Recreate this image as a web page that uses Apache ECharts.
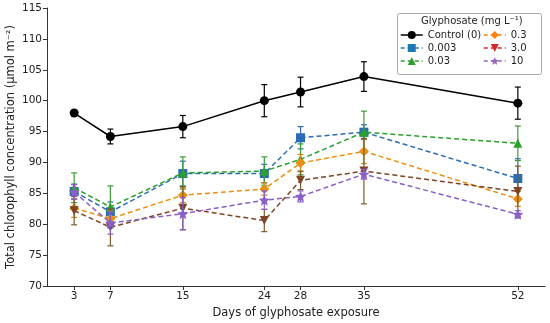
<!DOCTYPE html>
<html><head><meta charset="utf-8">
<script src="https://cdn.jsdelivr.net/npm/echarts@6/dist/echarts.min.js"></script>
<style>html,body{margin:0;padding:0;background:#fff}#c{width:550px;height:323px}</style>
</head><body><div id="c"></div>
<script>
const days = [3, 7, 15, 24, 28, 35, 52];
const xTicks = [3, 7, 15, 24, 28, 35, 52];
const yTicks = [70, 75, 80, 85, 90, 95, 100, 105, 110, 115];
const seriesNames = ['Control (0)', '0.003', '0.03', '0.3', '3.0', '10'];
const control = [98.0, 94.2, 95.8, 100.0, 101.4, 103.9, 99.6];
const controlErr = [0.3, 1.2, 1.8, 2.6, 2.4, 2.4, 2.6];
const g0003 = [85.3, 82.0, 88.2, 88.2, 94.0, 94.9, 87.4];
const g0003Err = [1.2, 1.6, 2.0, 1.5, 1.8, 1.2, 3.2];
const g003 = [85.9, 82.8, 88.3, 88.6, 90.5, 94.9, 93.1];
const g003Err = [2.4, 3.4, 2.6, 2.3, 2.5, 3.4, 2.8];
const g03 = [82.6, 80.9, 84.7, 85.7, 89.9, 91.8, 84.1];
const g03Err = [1.5, 1.2, 1.2, 1.0, 1.4, 2.0, 1.2];
const g30 = [82.2, 79.5, 82.6, 80.6, 87.1, 88.6, 85.3];
const g30Err = [2.3, 3.0, 3.5, 1.8, 1.5, 5.3, 4.1];
const g10 = [85.2, 80.2, 81.7, 83.9, 84.5, 88.1, 81.6];
const g10Err = [1.2, 1.8, 2.6, 1.5, 0.9, 0.8, 0.6];

const values = [control, g0003, g003, g03, g30, g10];
const errs = [controlErr, g0003Err, g003Err, g03Err, g30Err, g10Err];
const colors = ['#000000', '#2a6db5', '#2ca02c', '#e8900f', '#7e4426', '#8a5fc8'];
const legendColors = ['#000000', '#1f77b4', '#2ca02c', '#ff7f0e', '#d62728', '#9467bd'];
const errColors = ['#000000', '#2a6db5', '#3d9a35', '#d08a18', '#7a5a2a', '#8a5fc8'];
const star = 'path://M0,-10 L2.6,-3.6 9.5,-3.1 4.2,1.4 5.9,8.1 0,4.4 -5.9,8.1 -4.2,1.4 -9.5,-3.1 -2.6,-3.6 Z';
const symbols = ['circle', 'rect', 'triangle', 'diamond', 'triangle', star];
const symbolRot = [0, 0, 0, 0, 180, 0];
const symSizes = [9, 9, 9, 10, 9, 11];

const series = [];
seriesNames.forEach((name, i) => {
  const errData = days.map((d, k) => [d, values[i][k] - errs[i][k], values[i][k] + errs[i][k]]);
  const ec = errColors[i];
  series.push({
    type: 'custom', name: name + ' error', z: 2 + i * 2,
    data: errData, encode: {x: 0, y: [1, 2]},
    renderItem: function (params, api) {
      const x = api.value(0);
      const lo = api.coord([x, api.value(1)]);
      const hi = api.coord([x, api.value(2)]);
      const w = 3;
      const st = {stroke: ec, lineWidth: 1.2};
      return {type: 'group', children: [
        {type: 'line', shape: {x1: lo[0], y1: lo[1], x2: hi[0], y2: hi[1]}, style: st},
        {type: 'line', shape: {x1: lo[0] - w, y1: lo[1], x2: lo[0] + w, y2: lo[1]}, style: st},
        {type: 'line', shape: {x1: hi[0] - w, y1: hi[1], x2: hi[0] + w, y2: hi[1]}, style: st}
      ]};
    },
    silent: true
  });
  series.push({
    type: 'line', name: name, z: 3 + i * 2,
    data: days.map((d, k) => [d, values[i][k]]),
    symbol: symbols[i], symbolSize: symSizes[i], symbolRotate: symbolRot[i], showAllSymbol: true,
    color: colors[i],
    itemStyle: {color: colors[i], opacity: 1},
    lineStyle: {color: colors[i], width: 1.5, type: i === 0 ? 'solid' : [5, 3]},
    animation: false
  });
});

const legendItem = (i) => ({
  name: seriesNames[i],
  itemStyle: {color: legendColors[i]},
  lineStyle: {color: legendColors[i], type: i === 0 ? 'solid' : [4, 3], width: 1.5}
});

const legendText = {fontFamily: 'DejaVu Sans', fontSize: 10, color: '#222'};
const chart = echarts.init(document.getElementById('c'), null, {renderer: 'canvas'});
chart.setOption({
  animation: false,
  grid: {left: 47, right: 5, top: 8, bottom: 37, containLabel: false, outerBoundsMode: 'none'},
  xAxis: {
    type: 'value', min: 0, max: 55,
    name: 'Days of glyphosate exposure', nameLocation: 'middle', nameGap: 21, nameMoveOverlap: false,
    nameTextStyle: {fontFamily: 'DejaVu Sans', fontSize: 11.5, color: '#222'},
    axisLine: {show: true, lineStyle: {color: '#333', width: 1}},
    axisTick: {show: true, customValues: xTicks, length: 4, inside: false, lineStyle: {color: '#333'}},
    axisLabel: {customValues: xTicks, fontFamily: 'DejaVu Sans', fontSize: 10.5, color: '#222', margin: 5},
    splitLine: {show: false}
  },
  yAxis: {
    type: 'value', min: 70, max: 115, interval: 5,
    name: 'Total chlorophyll concentration (μmol m⁻²)', nameLocation: 'middle', nameGap: 30, nameRotate: 90,
    nameMoveOverlap: false,
    nameTextStyle: {fontFamily: 'DejaVu Sans', fontSize: 11.5, color: '#222'},
    axisLine: {show: true, lineStyle: {color: '#333', width: 1}},
    axisTick: {show: true, length: 4, lineStyle: {color: '#333'}},
    axisLabel: {fontFamily: 'DejaVu Sans', fontSize: 10.5, color: '#222', margin: 5},
    splitLine: {show: false}
  },
  legend: [
    {orient: 'vertical', left: 400, top: 30, itemGap: 3, itemWidth: 22, itemHeight: 10, z: 20, padding: 0,
     textStyle: legendText, data: [legendItem(0), legendItem(1), legendItem(2)]},
    {orient: 'vertical', left: 483, top: 30, itemGap: 3, itemWidth: 22, itemHeight: 10, z: 20, padding: 0,
     textStyle: legendText, data: [legendItem(3), legendItem(4), legendItem(5)]}
  ],
  graphic: [
    {type: 'rect', left: 397, top: 13, shape: {width: 144, height: 61, r: 2},
     style: {fill: '#fff', stroke: '#aaa', lineWidth: 1}, z: 15, silent: true},
    {type: 'text', left: 421, top: 16, style: {text: 'Glyphosate (mg L⁻¹)', font: '10px "DejaVu Sans"', fill: '#222'}, z: 21}
  ],
  series: series
});
</script></body></html>
